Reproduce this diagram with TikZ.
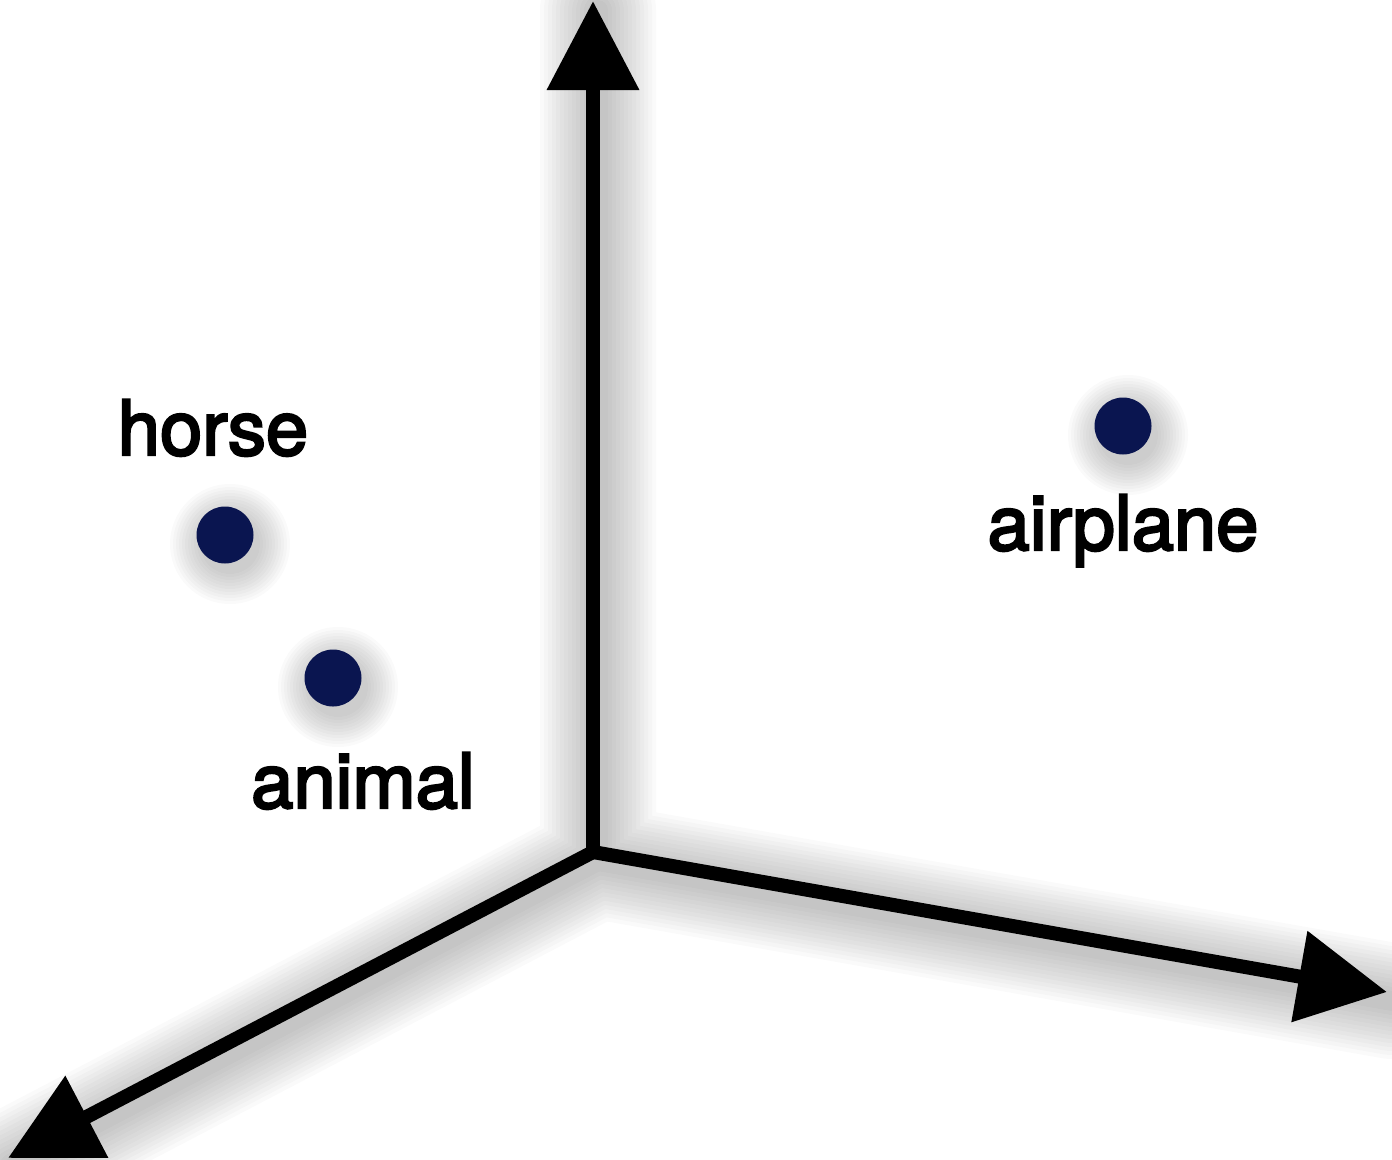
\documentclass[tikz,border=0pt]{standalone}
\usepackage{fontspec}
\setmainfont{TeX Gyre Heros}[FakeBold=3.2]
\usepackage{xcolor}
\usetikzlibrary{arrows.meta, backgrounds}

\definecolor{dotblue}{HTML}{0A1550}

\tikzset{
    axis/.style={line width=0.14cm, -{Triangle[length=0.89cm, width=0.89cm]}},
    softshadow/.style={black, opacity=0.018, line cap=round, line join=round,
        transform canvas={shift={(0.05,-0.09)}}},
    dot/.style={circle, fill=dotblue, inner sep=0pt, minimum size=0.57cm},
    word/.style={font=\fontsize{21.6}{26}\selectfont, anchor=base, inner sep=0pt},
}

\begin{document}
\begin{tikzpicture}
    \useasboundingbox (0, 0) rectangle (13.92, 11.59);

    \coordinate (o) at (5.93, 3.07);
    \coordinate (ytip) at (5.93, 11.58);
    \coordinate (xtip) at (13.87, 1.67);
    \coordinate (ztip) at (0.08, 0.01);

    \node[dot] (horse) at (2.25, 6.24) {};
    \node[dot] (animal) at (3.33, 4.81) {};
    \node[dot] (airplane) at (11.23, 7.33) {};

    \node[word] (horse-lbl) at (2.13, 7.04) {horse};
    \node[word] (animal-lbl) at (3.63, 3.51) {animal};
    \node[word] (airplane-lbl) at (11.23, 6.09) {airplane};

    \draw[axis] (o) -- (ytip); % up
    \draw[axis] (o) -- (xtip); % right
    \draw[axis] (o) -- (ztip); % down left

    \begin{scope}[on background layer]
        \foreach \w in {0.2, 0.28, ..., 1.2} {
            \draw[softshadow, line width=\w cm] (ytip) -- (o) -- (xtip) (o) -- (ztip);
        }
        \foreach \d in {horse, animal, airplane} {
            \foreach \r in {0.3, 0.33, ..., 0.6} {
                \fill[softshadow] (\d.center) circle (\r);
            }
        }
    \end{scope}
\end{tikzpicture}
\end{document}
